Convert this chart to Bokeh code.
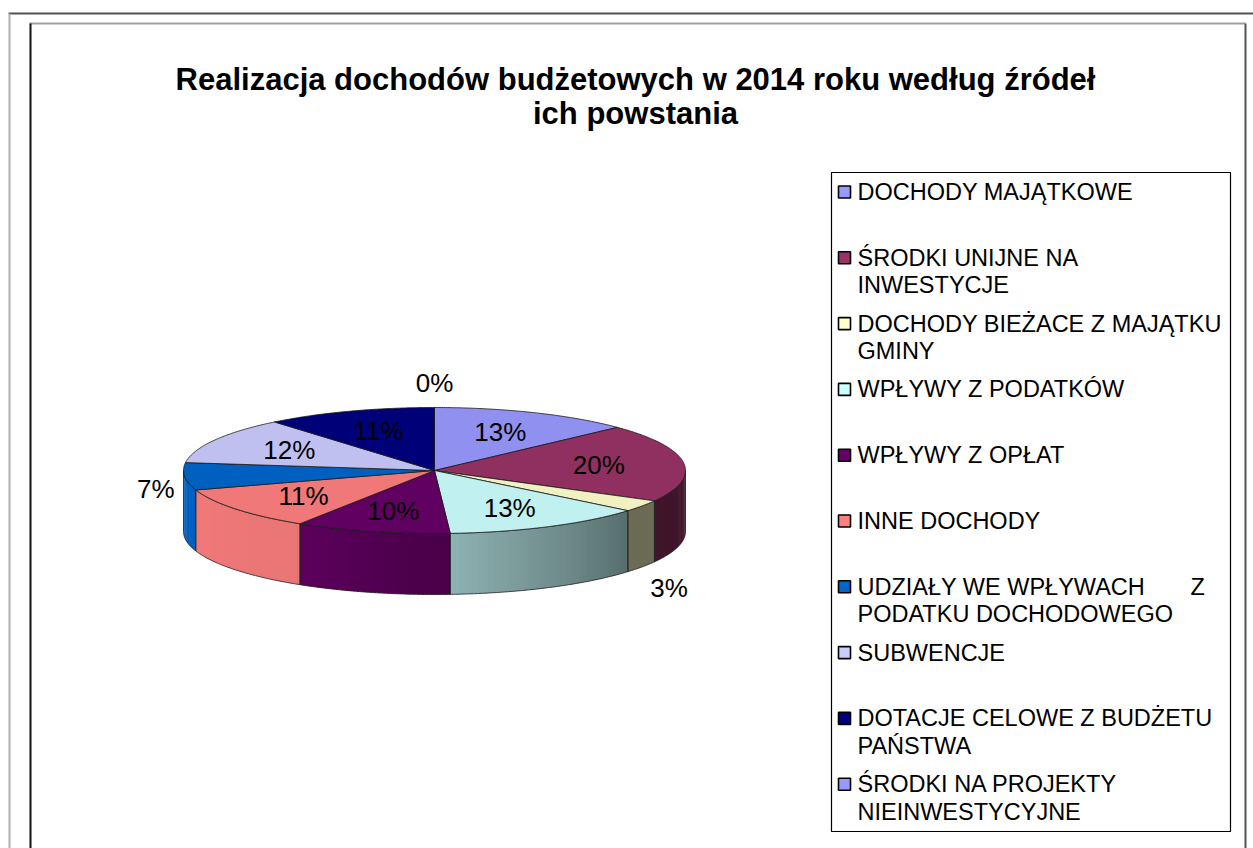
import numpy as np
from bokeh.plotting import figure
from bokeh.models import Range1d
from bokeh.core.properties import value
from bokeh.embed import file_html
from bokeh.resources import INLINE

# ---------------- data ----------------
title_lines = ["Realizacja dochodów budżetowych w 2014 roku według źródeł", "ich powstania"]
categories = [
    "DOCHODY MAJĄTKOWE",
    "ŚRODKI UNIJNE NA\nINWESTYCJE",
    "DOCHODY BIEŻACE Z MAJĄTKU\nGMINY",
    "WPŁYWY Z PODATKÓW",
    "WPŁYWY Z OPŁAT",
    "INNE DOCHODY",
    "UDZIAŁY WE WPŁYWACH\u00a0\u00a0\u00a0\u00a0\u00a0\u00a0\u00a0Z\nPODATKU DOCHODOWEGO",
    "SUBWENCJE",
    "DOTACJE CELOWE Z BUDŻETU\nPAŃSTWA",
    "ŚRODKI NA PROJEKTY\nNIEINWESTYCYJNE",
]
percent = [13, 20, 3, 13, 10, 11, 7, 12, 11, 0]
palette = ["#9999FF", "#993366", "#FFFFCC", "#CCFFFF", "#660066",
           "#FF8080", "#0066CC", "#CCCCFF", "#000080", "#9999FF"]

# ---------------- layout ----------------
W, H = 1253, 848
cx, cy, a, b, depth = 434.0, 470.0, 251.0, 63.0, 61.0
FONT = "Liberation Sans"


def shade(hexc, f):
    hexc = hexc.lstrip("#")
    r, g, bb = (int(hexc[i:i + 2], 16) for i in (0, 2, 4))
    return "#%02x%02x%02x" % tuple(int(max(0, min(255, round(c * f)))) for c in (r, g, bb))


def side_factor(t):
    d = np.degrees(t)
    return float(np.interp(d, [90, 128, 215, 270], [0.42, 0.42, 0.92, 0.95]))


p = figure(width=W, height=H, x_range=Range1d(0, W), y_range=Range1d(H, 0),
           output_backend="svg", toolbar_location=None,
           x_axis_location=None, y_axis_location=None,
           min_border=0, min_border_left=0, min_border_right=0,
           min_border_top=0, min_border_bottom=0)
p.grid.visible = False
p.outline_line_color = None
p.background_fill_color = "white"
p.border_fill_color = "white"

# frames
p.segment(x0=[8, 9, 29, 30, 1245], y0=[13, 13, 23, 23, 23],
          x1=[1253, 9, 1245, 30, 1245], y1=[13, 848, 23, 848, 848],
          line_color=["#505050", "#b0b0b0", "#a0a0a0", "#111111", "#555555"], line_width=2)

# title
p.text(x=[635, 635], y=[79, 113], text=title_lines, text_align="center",
       text_baseline="alphabetic", text_font=value(FONT), text_font_size=value("31px"),
       text_font_style="bold", text_color="black")

# pie geometry
vals = np.array(percent, dtype=float)
cum = np.concatenate([[0.0], np.cumsum(vals)]) / vals.sum() * 2 * np.pi
starts, ends = cum[:-1], cum[1:]


def ex(t):
    return cx + a * np.sin(t)


def ey(t):
    return cy - b * np.cos(t)


# side strips (gradient) and side outlines
sx, sy, sc = [], [], []
ox, oy = [], []
for i in range(len(vals)):
    lo, hi = max(starts[i], np.pi / 2), min(ends[i], 3 * np.pi / 2)
    if hi <= lo:
        continue
    n = max(2, int(np.degrees(hi - lo) / 1.0))
    edges = np.linspace(lo, hi, n + 1)
    for k in range(n):
        e1 = edges[k + 1] if k == n - 1 else min(hi, edges[k + 1] + np.radians(0.6))
        ts = np.linspace(edges[k], e1, 3)
        xs = list(ex(ts)) + list(ex(ts[::-1]))
        ys = list(ey(ts)) + list(ey(ts[::-1]) + depth)
        sx.append(xs)
        sy.append(ys)
        sc.append(shade(palette[i], side_factor((edges[k] + edges[k + 1]) / 2)))
    ts = np.linspace(lo, hi, 80)
    ox.append(list(ex(ts)) + list(ex(ts[::-1])))
    oy.append(list(ey(ts)) + list(ey(ts[::-1]) + depth))

p.patches(xs=sx, ys=sy, fill_color=sc, line_color=None)
p.patches(xs=ox, ys=oy, fill_alpha=0, line_color="#222222", line_width=0.8)

# top faces
tx, ty, tc = [], [], []
for i in range(len(vals)):
    if vals[i] <= 0:
        continue
    ts = np.linspace(starts[i], ends[i], max(4, int(np.degrees(ends[i] - starts[i]) * 2)))
    tx.append([cx] + list(ex(ts)))
    ty.append([cy] + list(ey(ts)))
    tc.append(shade(palette[i], 0.94))
p.patches(xs=tx, ys=ty, fill_color=tc, line_color="#1a1a1a", line_width=0.8)

# data labels
lab = [f"{v}%" for v in percent]
mids = (starts + ends) / 2
in_x, in_y, in_t = [], [], []
for i in range(len(vals)):
    if percent[i] >= 8:
        in_x.append(cx + 0.66 * a * np.sin(mids[i]))
        in_y.append(cy - 0.66 * b * np.cos(mids[i]))
        in_t.append(lab[i])
p.text(x=in_x, y=in_y, text=in_t, text_align="center", text_baseline="middle",
       text_font=value(FONT), text_font_size=value("26px"), text_color="black")

gap = 10
for i in range(len(vals)):
    if percent[i] >= 8:
        continue
    t = mids[i]
    s, c = np.sin(t), np.cos(t)
    axp = cx + a * s
    ayp = cy - b * c
    if c < 0:
        ayp += depth * min(1.0, -2 * c)
    lx, ly = axp + gap * s, ayp - gap * c
    align = "left" if s > 0.3 else ("right" if s < -0.3 else "center")
    base = "top" if c < -0.3 else ("bottom" if c > 0.3 else "middle")
    p.text(x=[lx], y=[ly], text=[lab[i]], text_align=align, text_baseline=base,
           text_font=value(FONT), text_font_size=value("26px"), text_color="black")

# legend
p.quad(left=[831], right=[1230], top=[172], bottom=[831], fill_color="white",
       line_color="black", line_width=1.2)
entry_y = [191.5 + 65.8 * i for i in range(len(categories))]
p.rect(x=[844] * len(categories), y=entry_y, width=12, height=12,
       fill_color=palette, line_color="black", line_width=1.6)
lx_, ly_, lt_ = [], [], []
for i, cat in enumerate(categories):
    for j, line in enumerate(cat.split("\n")):
        lx_.append(857)
        ly_.append(entry_y[i] + 27.5 * j)
        lt_.append(line)
p.text(x=lx_, y=ly_, text=lt_, text_align="left", text_baseline="middle",
       text_font=value(FONT), text_font_size=value("23.5px"), text_color="black")

open("out.html", "w").write(file_html(p, INLINE))
